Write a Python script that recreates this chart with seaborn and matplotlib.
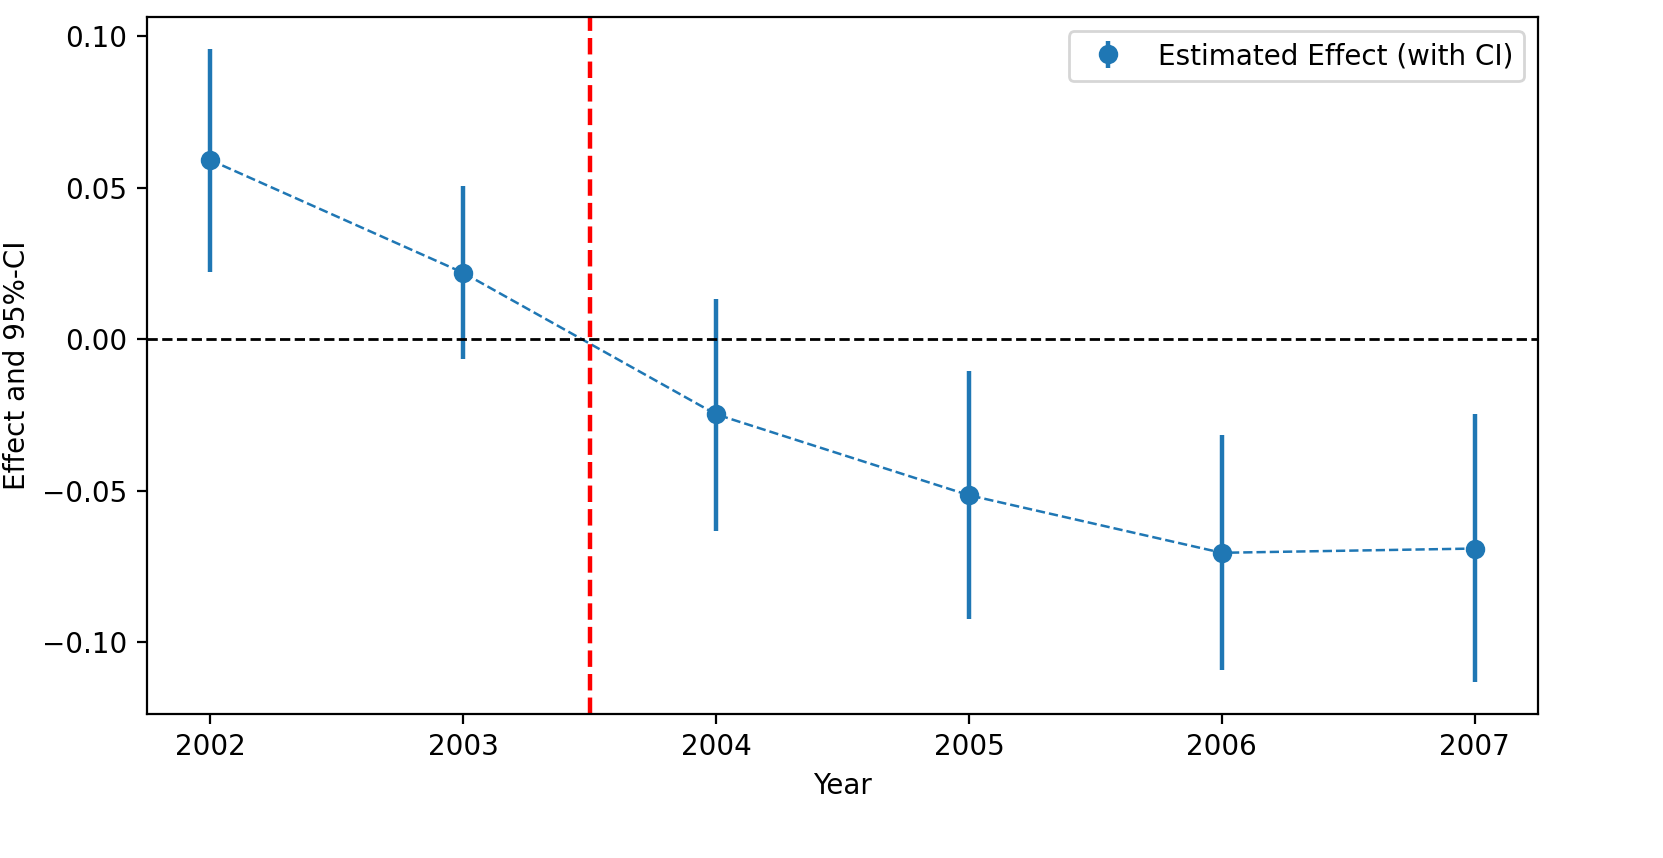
import numpy as np
import pandas as pd
import matplotlib
matplotlib.use("Agg")
import matplotlib.pyplot as plt
import seaborn as sns

years = [2002, 2003, 2004, 2005, 2006, 2007]
effect = [0.0591, 0.0219, -0.0248, -0.0515, -0.0705, -0.0691]
ci_low = [0.0221, -0.0066, -0.0634, -0.0924, -0.1092, -0.1132]
ci_high = [0.0958, 0.0505, 0.0134, -0.0105, -0.0316, -0.0248]

df = pd.DataFrame({"Year": years, "effect": effect, "lo": ci_low, "hi": ci_high})

# estilo por defecto de matplotlib
plt.rcParams['font.family'] = ['DejaVu Sans']

fig, ax = plt.subplots(figsize=(8.315, 4.29), dpi=200)
fig.subplots_adjust(left=0.0884, right=0.9248, top=0.980, bottom=0.168)

# linea discontinua entre los puntos
sns.lineplot(data=df, x="Year", y="effect", ax=ax, color="#1f77b4",
             linestyle="--", linewidth=0.9)

yerr = np.array([df["effect"] - df["lo"], df["hi"] - df["effect"]])
ax.errorbar(df["Year"], df["effect"], yerr=yerr, fmt="o", color="#1f77b4",
            markersize=6, elinewidth=1.6, capsize=0,
            label="Estimated Effect (with CI)")

ax.axhline(0, color="black", linestyle="--", linewidth=1)
ax.axvline(2003.5, color="red", linestyle="--", linewidth=1.6)

ax.set_xlabel("Year")
ax.set_ylabel("Effect and 95%-CI")
ax.set_xticks(years)
ax.legend(loc="upper right")

fig.savefig("out.png", dpi=200)
